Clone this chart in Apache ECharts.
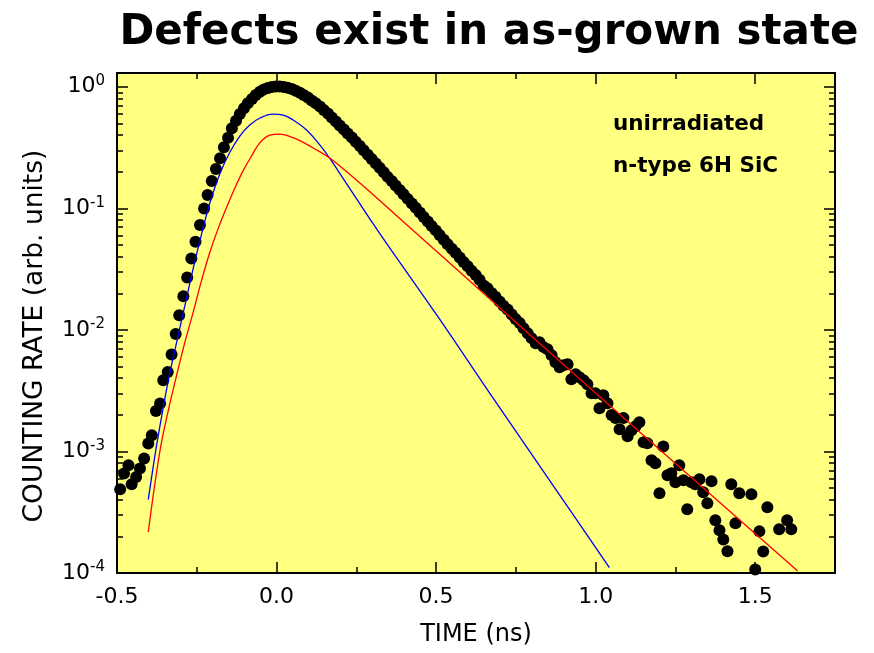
<!DOCTYPE html>
<html><head><meta charset="utf-8">
<script src="https://cdn.jsdelivr.net/npm/echarts@6/dist/echarts.min.js"></script>
<style>html,body{margin:0;padding:0;background:#fff;}#c{width:874px;height:653px;}</style>
</head><body><div id="c"></div>
<script>
// ---- measured data (time in ns, counting rate in arb. units) ----
const timeNs = [
-0.490,-0.478,-0.464,-0.454,-0.440,-0.428,-0.415,-0.402,-0.391,-0.378,-0.365,-0.355,-0.341,-0.329,-0.316,-0.305,-0.292,-0.280,-0.267,-0.254,
-0.240,-0.227,-0.216,-0.203,-0.190,-0.177,-0.165,-0.152,-0.140,-0.127,-0.115,-0.102,-0.090,-0.077,-0.065,
-0.052,-0.040,-0.027,-0.015,-0.002,0.010,0.023,0.035,0.048,0.060,0.073,0.085,0.098,0.110,0.123,0.136,0.148,0.161,0.173,0.186,
0.198,0.211,0.223,0.236,0.248,0.261,0.273,0.286,0.298,0.311,0.323,0.336,0.348,0.361,0.373,0.386,0.398,0.411,0.424,0.436,
0.449,0.461,0.474,0.486,0.499,0.511,0.524,0.536,0.549,0.561,0.574,0.586,0.599,0.611,0.624,0.636,0.649,0.661,0.674,0.686,
0.699,0.711,0.724,0.737,0.749,0.762,
0.774,0.787,0.799,0.812,0.824,0.837,0.849,0.862,0.874,0.887,0.899,0.912,0.924,0.937,0.949,0.962,0.974,0.987,0.999,1.012,
1.024,1.037,1.050,1.062,1.075,1.087,1.100,1.112,1.125,1.137,1.150,1.162,1.175,1.187,1.200,1.212,1.225,1.237,1.250,1.262,
1.275,1.287,1.300,1.312,1.325,1.337,1.350,1.363,1.375,1.388,1.400,1.413,1.425,1.438,1.450,1.488,1.500,1.513,1.525,1.538,
1.575,1.600,1.613
];
const countRate = [
4.89e-4,6.58e-4,7.69e-4,5.37e-4,6.17e-4,7.23e-4,8.75e-4,1.16e-3,1.36e-3,2.15e-3,2.48e-3,3.85e-3,4.51e-3,6.28e-3,9.23e-3,1.32e-2,1.89e-2,2.70e-2,3.87e-2,5.30e-2,
7.28e-2,9.98e-2,0.1285,0.1675,0.210,0.2576,0.317,0.380,0.455,0.525,0.596,0.664,0.730,0.792,0.855,
0.910,0.948,0.976,0.994,1.004,1.004,0.994,0.979,0.957,0.927,0.892,0.855,0.815,0.770,0.730,0.687,0.643,0.602,0.558,0.517,
0.479,0.444,0.412,0.382,0.352,0.325,0.300,0.2756,0.254,0.2333,0.2150,0.1975,0.1813,0.1674,0.1537,0.1417,0.1302,0.1195,0.1097,0.1008,
0.0925,0.0849,0.0780,0.0716,0.0658,0.0604,0.0552,0.0506,0.0464,0.0430,0.0394,0.0361,0.0334,0.0307,0.0282,0.0258,0.0232,0.0220,0.0201,0.0187,
0.0171,0.0158,0.0147,0.0134,0.0123,0.0114,
0.01033,0.00939,0.00855,0.00777,0.00792,0.00721,0.00694,0.00619,0.00542,0.00493,0.00512,0.00522,0.00393,0.00432,0.00408,0.00385,0.00357,0.00301,0.00301,0.00227,
0.00290,0.00249,0.00199,0.00188,0.00152,0.00188,0.00133,0.00149,0.00161,0.00174,0.00119,0.00117,8.47e-4,7.99e-4,4.53e-4,1.10e-3,6.37e-4,6.62e-4,5.58e-4,7.70e-4,
5.79e-4,3.34e-4,5.58e-4,5.37e-4,5.90e-4,4.61e-4,3.75e-4,5.68e-4,2.71e-4,2.25e-4,1.89e-4,1.51e-4,5.37e-4,2.56e-4,4.53e-4,4.44e-4,1.07e-4,2.20e-4,1.50e-4,3.47e-4,
2.29e-4,2.71e-4,2.29e-4
];
// fitted components
const fastTime = [-0.402,-0.381,-0.365,-0.339,-0.313,-0.287,-0.261,-0.235,-0.209,-0.178,-0.146,-0.115,-0.084,-0.052,-0.011,0.021,0.052,0.094,0.136,0.167,0.198,0.250,0.302,0.355,0.511,0.683,0.981,1.043];
const fastRate = [4.02e-4,9.30e-4,1.643e-3,3.855e-3,7.92e-3,0.01597,0.0322,0.0613,0.1104,0.1912,0.290,0.393,0.484,0.553,0.596,0.585,0.532,0.440,0.331,0.2574,0.1938,0.1206,0.0751,0.0470,0.01225,2.638e-3,1.919e-4,1.107e-4];
const slowTime = [-0.402,-0.365,-0.339,-0.313,-0.287,-0.261,-0.235,-0.209,-0.183,-0.157,-0.131,-0.105,-0.078,-0.052,-0.021,0.010,0.042,0.073,0.115,0.162,0.219,0.302,0.407,0.553,1.012,1.633];
const slowRate = [2.175e-4,1.023e-3,2.183e-3,4.24e-3,7.96e-3,0.01406,0.0255,0.0435,0.0680,0.1010,0.1460,0.2030,0.2700,0.3470,0.4004,0.408,0.3892,0.3607,0.3130,0.2638,0.2004,0.1297,0.0737,0.0335,2.825e-3,1.04e-4];
// axis ticks / labels
const xMajorTicks = [-0.5, 0.0, 0.5, 1.0, 1.5];
const xMinorTicks = [-0.25, 0.25, 0.75, 1.25];
const yMajorTicks = [1e-4, 1e-3, 1e-2, 1e-1, 1];
const yMinorMultipliers = [2,3,4,5,6,7,8,9];

const yMinorTicks = [];
yMajorTicks.slice(0, 4).forEach(d => yMinorMultipliers.forEach(m => yMinorTicks.push(+(d*m).toPrecision(3))));

const FONT = 'DejaVu Sans';
const X_MIN = -0.5, X_MAX = 1.75, Y_MIN = 1e-4, Y_MAX = 1.2965;

function xAxisDef(pos, ticks, len, showLine, showLabels) {
  return {
    type: 'value', position: pos, min: X_MIN, max: X_MAX,
    splitLine: {show: false},
    axisLine: {show: showLine, onZero: false, lineStyle: {color: '#000', width: 2}},
    axisTick: {show: true, inside: true, length: len, customValues: ticks, lineStyle: {color: '#000', width: 1.5}},
    axisLabel: showLabels ? {show: true, customValues: ticks, formatter: v => Number(v).toFixed(1),
      fontFamily: FONT, fontSize: 22, color: '#000', margin: 13} : {show: false}
  };
}
function yAxisDef(pos, ticks, len, showLine, showLabels) {
  return {
    type: 'log', logBase: 10, position: pos, min: Y_MIN, max: Y_MAX,
    splitLine: {show: false},
    axisLine: {show: showLine, onZero: false, lineStyle: {color: '#000', width: 2}},
    axisTick: {show: true, inside: true, length: len, customValues: ticks, lineStyle: {color: '#000', width: 1.5}},
    axisLabel: showLabels ? {show: true, customValues: ticks, margin: 12,
      formatter: v => '{b|10}{s|' + Math.round(Math.log10(v)) + '}',
      rich: {
        b: {fontFamily: FONT, fontSize: 22, color: '#000', lineHeight: 26},
        s: {fontFamily: FONT, fontSize: 15, color: '#000', lineHeight: 16, verticalAlign: 'top'}
      }} : {show: false}
  };
}

const xMain = xAxisDef('bottom', xMajorTicks, 11, true, true);
xMain.name = 'TIME (ns)';
xMain.nameLocation = 'middle';
xMain.nameGap = 50;
xMain.nameTextStyle = {fontFamily: FONT, fontSize: 24, color: '#000'};

const yMain = yAxisDef('left', yMajorTicks, 11, true, true);
yMain.name = 'COUNTING RATE (arb. units)';
yMain.nameLocation = 'middle';
yMain.nameGap = 68;
yMain.nameTextStyle = {fontFamily: FONT, fontSize: 26.5, color: '#000', padding: [0, 26, 0, 0]};

const chart = echarts.init(document.getElementById('c'), null, {renderer: 'canvas'});
chart.setOption({
  animation: false,
  backgroundColor: '#ffffff',
  title: {
    text: 'Defects exist in as-grown state',
    left: 484, top: 7, textAlign: 'center',
    textStyle: {fontFamily: FONT, fontWeight: 'bold', fontSize: 42, color: '#000'}
  },
  grid: {left: 117, right: 39, top: 73, bottom: 80, show: true, backgroundColor: '#ffff80', borderWidth: 0},
  xAxis: [
    xMain,
    xAxisDef('bottom', xMinorTicks, 6, false, false),
    xAxisDef('top', xMajorTicks, 11, true, false),
    xAxisDef('top', xMinorTicks, 6, false, false)
  ],
  yAxis: [
    yMain,
    yAxisDef('left', yMinorTicks, 6, false, false),
    yAxisDef('right', yMajorTicks, 11, true, false),
    yAxisDef('right', yMinorTicks, 6, false, false)
  ],
  graphic: [
    {type: 'text', x: 613, y: 124, z: 100, style: {text: 'unirradiated', font: 'bold 21.5px "DejaVu Sans"', fill: '#000', verticalAlign: 'middle'}},
    {type: 'text', x: 613, y: 166, z: 100, style: {text: 'n-type 6H SiC', font: 'bold 21.5px "DejaVu Sans"', fill: '#000', verticalAlign: 'middle'}}
  ],
  series: [
    {type: 'scatter', name: 'data', xAxisIndex: 0, yAxisIndex: 0, z: 2,
     symbol: 'circle', symbolSize: 12, itemStyle: {color: '#000', opacity: 1},
     data: timeNs.map((t, i) => [t, countRate[i]])},
    {type: 'line', name: 'fast', xAxisIndex: 0, yAxisIndex: 0, z: 3, smooth: 0.4, showSymbol: false,
     lineStyle: {color: '#0000ff', width: 1.3},
     data: fastTime.map((t, i) => [t, fastRate[i]])},
    {type: 'line', name: 'slow', xAxisIndex: 0, yAxisIndex: 0, z: 3, smooth: 0.4, showSymbol: false,
     lineStyle: {color: '#ff0000', width: 1.3},
     data: slowTime.map((t, i) => [t, slowRate[i]])}
  ]
});
</script>
</body></html>
